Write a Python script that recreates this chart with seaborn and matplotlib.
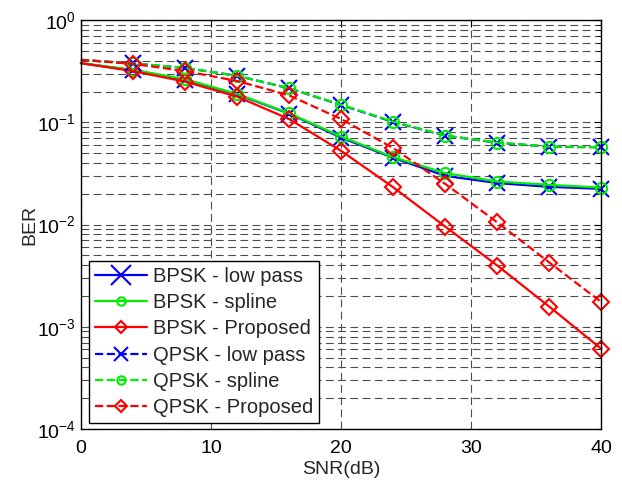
import matplotlib
matplotlib.use('Agg')
import matplotlib.pyplot as plt
import seaborn as sns
from matplotlib.ticker import LogLocator, NullFormatter

sns.set_style('white')
plt.rcParams['font.family'] = ['Liberation Sans', 'DejaVu Sans']
plt.rcParams['mathtext.fontset'] = 'custom'
plt.rcParams['mathtext.rm'] = 'Liberation Sans'

# data
snr = [0, 4, 8, 12, 16, 20, 24, 28, 32, 36, 40]
bpsk_lowpass = [0.38, 0.325, 0.262, 0.188, 0.122, 0.071, 0.045, 0.030, 0.0255, 0.0234, 0.0224]
bpsk_spline = [0.38, 0.328, 0.265, 0.190, 0.123, 0.0728, 0.0457, 0.0319, 0.0264, 0.0245, 0.0230]
bpsk_proposed = [0.38, 0.318, 0.251, 0.179, 0.108, 0.0527, 0.0232, 0.00955, 0.00397, 0.00157, 0.000606]
qpsk_lowpass = [0.41, 0.378, 0.342, 0.286, 0.216, 0.148, 0.101, 0.0742, 0.0633, 0.0578, 0.0571]
qpsk_spline = [0.41, 0.378, 0.343, 0.286, 0.217, 0.149, 0.102, 0.0744, 0.0636, 0.0580, 0.0573]
qpsk_proposed = [0.41, 0.375, 0.318, 0.255, 0.184, 0.108, 0.056, 0.025, 0.0105, 0.00425, 0.00174]

series = [
    ('BPSK - low pass', bpsk_lowpass, 'blue', '-', 'x'),
    ('BPSK - spline', bpsk_spline, '#00ee00', '-', 'o'),
    ('BPSK - Proposed', bpsk_proposed, 'red', '-', 'D'),
    ('QPSK - low pass', qpsk_lowpass, 'blue', '--', 'x'),
    ('QPSK - spline', qpsk_spline, '#00ee00', '--', 'o'),
    ('QPSK - Proposed', qpsk_proposed, 'red', '--', 'D'),
]

fig = plt.figure(figsize=(6.22, 4.83), dpi=100)
ax = fig.add_axes([0.130, 0.112, 0.837, 0.846])

for label, vals, color, ls, mk in series:
    sns.lineplot(x=snr, y=vals, ax=ax, color=color, linestyle=ls, linewidth=1.6,
                 marker=mk, markersize=8 if mk != 'x' else 11,
                 markerfacecolor='none', markeredgecolor=color, markeredgewidth=1.5,
                 markevery=list(range(1, len(snr))), label=label, clip_on=False)

ax.set_yscale('log')
ax.set_xlim(0, 40)
ax.set_ylim(1e-4, 1)
ax.set_xticks([0, 10, 20, 30, 40])
ax.yaxis.set_major_locator(LogLocator(base=10, numticks=10))
ax.yaxis.set_minor_locator(LogLocator(base=10, subs=range(2, 10), numticks=20))
ax.yaxis.set_minor_formatter(NullFormatter())

grid_kw = dict(color='0.3', linestyle=(0, (7, 4)), linewidth=0.8)
ax.grid(True, which='major', axis='both', **grid_kw)
ax.grid(True, which='minor', axis='y', **grid_kw)
ax.set_axisbelow(True)

ax.tick_params(which='both', direction='in', top=True, right=True, labelsize=14,
               colors='black')
ax.tick_params(which='major', length=5)
ax.tick_params(which='minor', length=3)
ax.tick_params(axis='x', pad=8)
for sp in ax.spines.values():
    sp.set_color('black')
    sp.set_linewidth(1.0)

ax.set_xlabel('SNR(dB)', fontsize=14, labelpad=3)
ax.set_ylabel('BER', fontsize=14, labelpad=-1)

leg = ax.legend(loc='lower left', bbox_to_anchor=(0.015, 0.014), fontsize=14.5,
                frameon=True, fancybox=False, edgecolor='black', framealpha=1,
                handlelength=2.6, handletextpad=0.3, labelspacing=0.36,
                borderpad=0.3, borderaxespad=0)
leg.get_frame().set_linewidth(1.0)
legend_marker_sizes = [14, 6, 6, 10, 6, 6]
for h, ms in zip(leg.legend_handles, legend_marker_sizes):
    h.set_markersize(ms)

fig.savefig('out.png', dpi=100)
